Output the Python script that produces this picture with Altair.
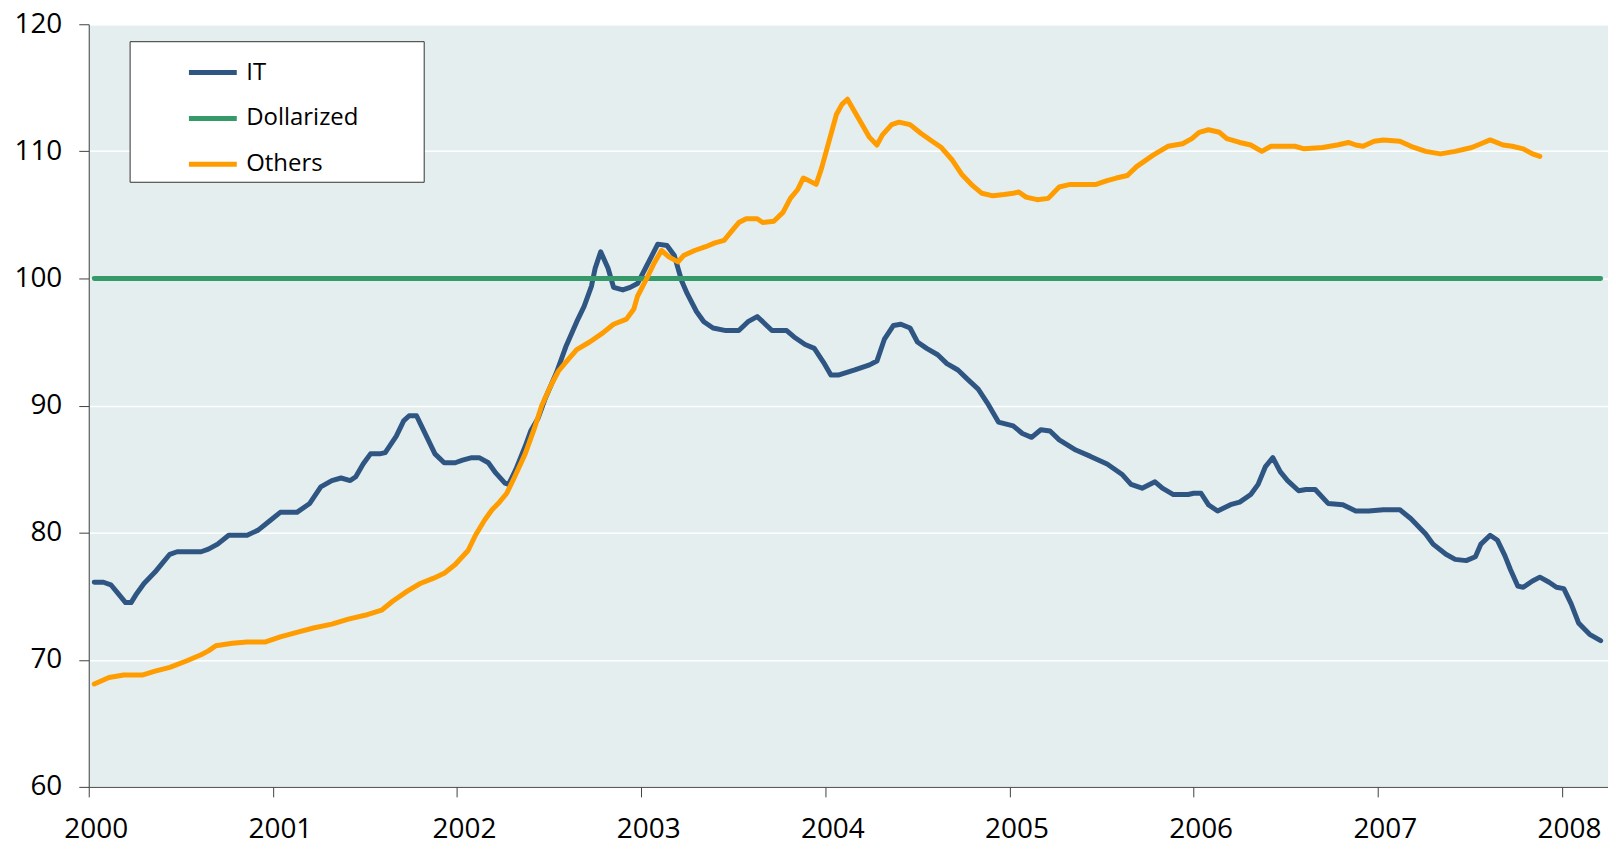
import altair as alt
import pandas as pd

# ---- data (decimal years) ----
it_t = [2000.03, 2000.08, 2000.12, 2000.16, 2000.20, 2000.23, 2000.26, 2000.30, 2000.36, 2000.40,
        2000.44, 2000.48, 2000.61, 2000.65, 2000.70, 2000.76, 2000.86, 2000.92, 2000.98, 2001.04,
        2001.13, 2001.20, 2001.26, 2001.32, 2001.37, 2001.42, 2001.45, 2001.49, 2001.53, 2001.58,
        2001.61, 2001.67, 2001.71, 2001.74, 2001.78, 2001.80, 2001.84, 2001.88, 2001.93, 2001.99,
        2002.03, 2002.08, 2002.12, 2002.17, 2002.21, 2002.26, 2002.28, 2002.32, 2002.37, 2002.40,
        2002.44, 2002.48, 2002.54, 2002.59, 2002.65, 2002.69, 2002.73, 2002.75, 2002.78, 2002.82,
        2002.85, 2002.90, 2002.94, 2002.98, 2003.03, 2003.09, 2003.14, 2003.18, 2003.22, 2003.25,
        2003.30, 2003.34, 2003.39, 2003.46, 2003.53, 2003.58, 2003.63, 2003.66, 2003.71, 2003.79,
        2003.83, 2003.89, 2003.94, 2003.99, 2004.03, 2004.07, 2004.16, 2004.24, 2004.28, 2004.32,
        2004.37, 2004.41, 2004.46, 2004.50, 2004.55, 2004.61, 2004.66, 2004.72, 2004.77, 2004.83,
        2004.88, 2004.94, 2005.02, 2005.07, 2005.12, 2005.17, 2005.22, 2005.27, 2005.36, 2005.44,
        2005.53, 2005.61, 2005.66, 2005.72, 2005.79, 2005.83, 2005.89, 2005.97, 2006.00, 2006.04,
        2006.08, 2006.13, 2006.20, 2006.25, 2006.31, 2006.35, 2006.39, 2006.43, 2006.47, 2006.51,
        2006.57, 2006.61, 2006.66, 2006.73, 2006.81, 2006.88, 2006.95, 2007.03, 2007.12, 2007.18,
        2007.26, 2007.30, 2007.37, 2007.42, 2007.48, 2007.53, 2007.56, 2007.61, 2007.65, 2007.69,
        2007.72, 2007.76, 2007.79, 2007.84, 2007.88, 2007.93, 2007.97, 2008.01, 2008.05, 2008.09,
        2008.15, 2008.21]
it_v = [76.1, 76.1, 75.9, 75.2, 74.5, 74.5, 75.2, 76.0, 76.9, 77.6,
        78.3, 78.5, 78.5, 78.7, 79.1, 79.8, 79.8, 80.2, 80.9, 81.6,
        81.6, 82.3, 83.6, 84.1, 84.3, 84.1, 84.4, 85.4, 86.2, 86.2,
        86.3, 87.6, 88.8, 89.2, 89.2, 88.6, 87.4, 86.2, 85.5, 85.5,
        85.7, 85.9, 85.9, 85.5, 84.7, 83.9, 83.8, 85.0, 86.8, 88.0,
        89.0, 90.6, 92.6, 94.6, 96.6, 97.8, 99.4, 100.8, 102.1, 100.8,
        99.3, 99.1, 99.3, 99.6, 101.0, 102.7, 102.6, 101.8, 99.8, 98.8,
        97.4, 96.6, 96.1, 95.9, 95.9, 96.6, 97.0, 96.6, 95.9, 95.9,
        95.4, 94.8, 94.5, 93.4, 92.4, 92.4, 92.8, 93.2, 93.5, 95.2,
        96.3, 96.4, 96.1, 95.0, 94.5, 94.0, 93.3, 92.8, 92.1, 91.3,
        90.2, 88.7, 88.4, 87.8, 87.5, 88.1, 88.0, 87.3, 86.5, 86.0,
        85.4, 84.6, 83.8, 83.5, 84.0, 83.5, 83.0, 83.0, 83.1, 83.1,
        82.2, 81.7, 82.2, 82.4, 83.0, 83.8, 85.2, 85.9, 84.8, 84.1,
        83.3, 83.4, 83.4, 82.3, 82.2, 81.7, 81.7, 81.8, 81.8, 81.1,
        79.9, 79.1, 78.3, 77.9, 77.8, 78.1, 79.1, 79.8, 79.4, 78.2,
        77.1, 75.8, 75.7, 76.2, 76.5, 76.1, 75.7, 75.6, 74.4, 72.9,
        72.0, 71.5]

others_t = [2000.03, 2000.11, 2000.19, 2000.29, 2000.36, 2000.44, 2000.53, 2000.61, 2000.65, 2000.69,
            2000.78, 2000.86, 2000.96, 2001.04, 2001.14, 2001.22, 2001.32, 2001.41, 2001.50, 2001.59,
            2001.65, 2001.73, 2001.80, 2001.87, 2001.93, 2001.99, 2002.06, 2002.10, 2002.15, 2002.19,
            2002.23, 2002.27, 2002.31, 2002.37, 2002.42, 2002.46, 2002.51, 2002.55, 2002.59, 2002.65,
            2002.72, 2002.79, 2002.85, 2002.92, 2002.96, 2002.98, 2003.03, 2003.07, 2003.11, 2003.15,
            2003.20, 2003.23, 2003.29, 2003.35, 2003.40, 2003.45, 2003.49, 2003.53, 2003.57, 2003.63,
            2003.66, 2003.72, 2003.77, 2003.81, 2003.85, 2003.88, 2003.91, 2003.95, 2003.98, 2004.02,
            2004.06, 2004.09, 2004.12, 2004.16, 2004.20, 2004.24, 2004.28, 2004.31, 2004.36, 2004.40,
            2004.46, 2004.52, 2004.58, 2004.63, 2004.69, 2004.74, 2004.80, 2004.85, 2004.91, 2004.97,
            2005.02, 2005.05, 2005.09, 2005.15, 2005.21, 2005.27, 2005.33, 2005.47, 2005.53, 2005.58,
            2005.64, 2005.69, 2005.78, 2005.86, 2005.94, 2005.99, 2006.03, 2006.08, 2006.14, 2006.18,
            2006.25, 2006.31, 2006.37, 2006.42, 2006.47, 2006.55, 2006.60, 2006.70, 2006.78, 2006.84,
            2006.88, 2006.92, 2006.98, 2007.03, 2007.12, 2007.18, 2007.26, 2007.34, 2007.42, 2007.51,
            2007.56, 2007.61, 2007.68, 2007.73, 2007.79, 2007.84, 2007.88]
others_v = [68.1, 68.6, 68.8, 68.8, 69.1, 69.4, 69.9, 70.4, 70.7, 71.1,
            71.3, 71.4, 71.4, 71.8, 72.2, 72.5, 72.8, 73.2, 73.5, 73.9,
            74.6, 75.4, 76.0, 76.4, 76.8, 77.5, 78.6, 79.8, 81.0, 81.8,
            82.4, 83.1, 84.3, 86.2, 88.2, 90.0, 91.6, 92.7, 93.4, 94.4,
            95.0, 95.7, 96.4, 96.8, 97.6, 98.6, 100.0, 101.2, 102.2, 101.7,
            101.3, 101.8, 102.2, 102.5, 102.8, 103.0, 103.7, 104.4, 104.7, 104.7,
            104.4, 104.5, 105.2, 106.3, 107.0, 107.9, 107.7, 107.4, 108.7, 110.8,
            112.9, 113.7, 114.1, 113.1, 112.1, 111.1, 110.5, 111.3, 112.1, 112.3,
            112.1, 111.4, 110.8, 110.3, 109.3, 108.2, 107.3, 106.7, 106.5, 106.6,
            106.7, 106.8, 106.4, 106.2, 106.3, 107.2, 107.4, 107.4, 107.7, 107.9,
            108.1, 108.8, 109.7, 110.4, 110.6, 111.0, 111.5, 111.7, 111.5, 111.0,
            110.7, 110.5, 110.0, 110.4, 110.4, 110.4, 110.2, 110.3, 110.5, 110.7,
            110.5, 110.4, 110.8, 110.9, 110.8, 110.4, 110.0, 109.8, 110.0, 110.3,
            110.6, 110.9, 110.5, 110.4, 110.2, 109.8, 109.6]

dollar_t = [2000.03, 2008.21]
dollar_v = [100.0, 100.0]

series_names = ["IT", "Dollarized", "Others"]
series_colors = ["#2F5683", "#36996A", "#FF9C00"]
x_ticks = [2000, 2001, 2002, 2003, 2004, 2005, 2006, 2007, 2008]
y_ticks = [60, 70, 80, 90, 100, 110, 120]

rows = []
for name, ts, vs in [("IT", it_t, it_v), ("Dollarized", dollar_t, dollar_v), ("Others", others_t, others_v)]:
    for i, (t, v) in enumerate(zip(ts, vs)):
        rows.append({"t": t, "v": v, "series": name, "i": i})
df = pd.DataFrame(rows)

FONT = "Open Sans"

chart = (
    alt.Chart(df)
    .mark_line(strokeWidth=5, strokeCap="round", strokeJoin="round")
    .encode(
        x=alt.X(
            "t:Q",
            scale=alt.Scale(domain=[2000, 2008.25], nice=False, zero=False),
            axis=alt.Axis(
                values=x_ticks, format="d", title=None, grid=False,
                tickSize=10, labelPadding=19, labelFlush=False, labelOffset=7,
                labelFontSize=28, labelFont=FONT, labelColor="#000000",
                domainColor="#404040", tickColor="#404040", labelOverlap=False,
            ),
        ),
        y=alt.Y(
            "v:Q",
            scale=alt.Scale(domain=[60, 120], nice=False, zero=False),
            axis=alt.Axis(
                values=y_ticks, title=None, grid=True, gridColor="#FFFFFF", gridWidth=1.5,
                tickSize=10, labelPadding=17, labelFontSize=28, labelFont=FONT,
                labelColor="#000000", domainColor="#404040", tickColor="#404040",
            ),
        ),
        color=alt.Color(
            "series:N",
            scale=alt.Scale(domain=series_names, range=series_colors),
            legend=alt.Legend(
                title=None, orient="none", legendX=41, legendY=17,
                fillColor="#FFFFFF", strokeColor="#333333", padding=5,
                symbolType="stroke", symbolSize=2304, symbolStrokeWidth=5,
                symbolOffset=52, labelOffset=7, rowPadding=7,
                labelFont=FONT, labelFontSize=24, labelColor="#000000", labelLimit=400,
                labelExpr="datum.label + '\u2003\u2003\u2002\u200b'",
            ),
        ),
        order="i:Q",
    )
    .properties(
        width=1524, height=765,
        padding={"left": 5, "top": 1, "right": 0, "bottom": 0},
    )
    .configure(background="#FFFFFF")
    .configure_view(fill="#E4EEEF", strokeWidth=0)
)

chart.save("out.html", embed_options={"renderer": "svg", "actions": False})
